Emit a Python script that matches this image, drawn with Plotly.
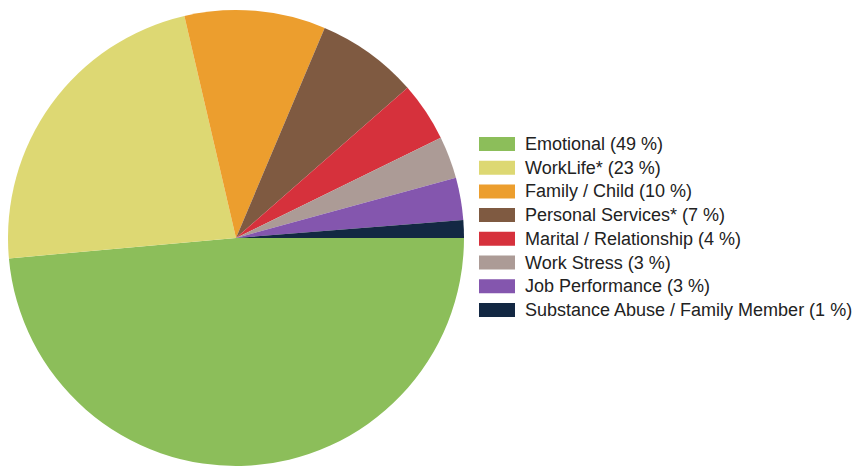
import plotly.graph_objects as go

labels = ["Emotional", "WorkLife*", "Family / Child", "Personal Services*",
          "Marital / Relationship", "Work Stress", "Job Performance",
          "Substance Abuse / Family Member"]
values = [48.6, 22.8, 10.0, 7.2, 4.2, 3.0, 3.0, 1.25]
colors = ["#8CBE5A", "#DDD873", "#EC9E2E", "#7F5A41",
          "#D6313C", "#AC9B96", "#8456AE", "#132843"]

W, H = 862, 466
OX, OY = 8, 8  # page body offset

fig = go.Figure(go.Pie(
    labels=labels, values=values, sort=False, direction="clockwise",
    rotation=90, textinfo="none", hoverinfo="label+percent",
    marker=dict(colors=colors, line=dict(width=0)),
    domain=dict(x=[(8 - OX) / W, (464 - OX) / W],
                y=[1 - (466 - OY) / H, 1 - (10 - OY) / H]),
    showlegend=False,
))

# Legend built from the data lists
total = sum(values)
x0, x1 = 479 - OX, 515 - OX
y_first, step = 144 - OY, 23.7
for i, (lab, val, col) in enumerate(zip(labels, values, colors)):
    yc = y_first + i * step
    fig.add_shape(type="rect", xref="paper", yref="paper",
                  x0=x0 / W, x1=x1 / W,
                  y0=1 - (yc + 7) / H, y1=1 - (yc - 7) / H,
                  fillcolor=col, line=dict(width=0))
    fig.add_annotation(xref="paper", yref="paper", x=(523 - OX) / W, y=1 - yc / H,
                       xanchor="left", yanchor="middle", showarrow=False,
                       text=f"{lab} ({round(val / total * 100)} %)",
                       font=dict(family="Liberation Sans, Arial", size=18, color="#222222"))

fig.update_layout(width=W, height=H, margin=dict(l=0, r=0, t=0, b=0),
                  paper_bgcolor="white", plot_bgcolor="white")
fig.write_html("out.html")
